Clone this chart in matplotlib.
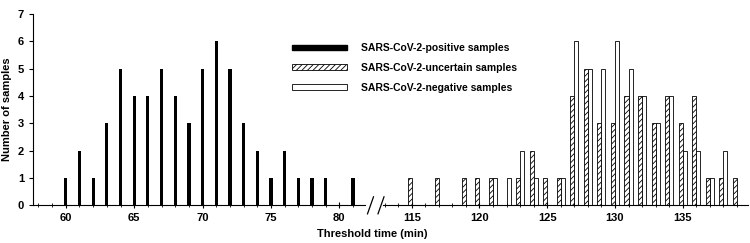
import numpy as np
import matplotlib.pyplot as plt
import matplotlib
from matplotlib.patches import Patch

plt.rcParams['font.family'] = 'Liberation Sans'
plt.rcParams['font.weight'] = 'bold'
plt.rcParams['hatch.linewidth'] = 0.6

# positive samples (left part)
pos_t = [60, 61, 62, 63, 64, 65, 66, 67, 68, 69, 70, 71, 72, 73, 74, 75, 76, 77, 78, 79, 81]
pos_n = [1, 2, 1, 3, 5, 4, 4, 5, 4, 3, 5, 6, 5, 3, 2, 1, 2, 1, 1, 1, 1]

# uncertain samples (right part)
unc_t = [115, 117, 119, 120, 121, 123, 124, 125, 126, 127, 128, 129, 130, 131, 132, 133, 134, 135, 136, 137, 138, 139]
unc_n = [1, 1, 1, 1, 1, 1, 2, 1, 1, 4, 5, 3, 3, 4, 4, 3, 4, 3, 4, 1, 1, 1]

# negative samples (right part)
neg_t = [121, 122, 123, 124, 126, 127, 128, 129, 130, 131, 132, 133, 134, 135, 136, 137, 138]
neg_n = [1, 1, 2, 1, 1, 6, 5, 5, 6, 5, 4, 3, 4, 2, 2, 1, 2]

fig = plt.figure(figsize=(7.5, 2.43), dpi=100)
ax1 = fig.add_axes([0.044, 0.156, 0.443, 0.786])
ax2 = fig.add_axes([0.511, 0.156, 0.486, 0.786])

ax1.bar(pos_t, pos_n, width=0.24, color='black')
ax2.bar(np.array(unc_t) - 0.3, unc_n, width=0.3, align='edge', color='white',
        edgecolor='black', linewidth=0.6, hatch='//////')
ax2.bar(neg_t, neg_n, width=0.3, align='edge', color='white',
        edgecolor='black', linewidth=0.6)

ax1.set_xlim(57.6, 81.9)
ax2.set_xlim(112.9, 139.8)
for ax in (ax1, ax2):
    ax.set_ylim(0, 7)
    ax.spines['top'].set_visible(False)
    ax.spines['right'].set_visible(False)
    ax.spines['bottom'].set_linewidth(0.8)
    ax.xaxis.set_minor_locator(matplotlib.ticker.MultipleLocator(1))
    ax.xaxis.set_major_locator(matplotlib.ticker.MultipleLocator(5))
    ax.tick_params(axis='x', which='major', length=4, width=0.8, labelsize=8, direction='inout')
    ax.tick_params(axis='x', which='minor', length=3, width=0.6, direction='inout')
ax1.set_yticks(range(8))
ax1.tick_params(axis='y', length=3, labelsize=8)
ax1.spines['left'].set_linewidth(0.8)
ax2.spines['left'].set_visible(False)
ax2.set_yticks([])

ax1.set_ylabel("Number of samples", fontsize=8, fontweight='bold')
fig.text(0.496, 0.025, "Threshold time (min)", ha='center', fontsize=8, fontweight='bold')

# break marks
for xb in (0.494, 0.508):
    fig.add_artist(plt.Line2D([xb - 0.004, xb + 0.004], [0.12, 0.19], color='black', lw=0.9))

handles = [Patch(facecolor='black', edgecolor='black'),
           Patch(facecolor='white', edgecolor='black', hatch='//////', linewidth=0.6),
           Patch(facecolor='white', edgecolor='black', linewidth=0.6)]
labels = ["SARS-CoV-2-positive samples", "SARS-CoV-2-uncertain samples", "SARS-CoV-2-negative samples"]
fig.legend(handles, labels, loc='upper left', bbox_to_anchor=(0.377, 0.862), frameon=False,
           fontsize=7.5, handlelength=5.3, handleheight=0.4, labelspacing=0.95, handletextpad=1.35)

plt.savefig("out.png", dpi=100)
